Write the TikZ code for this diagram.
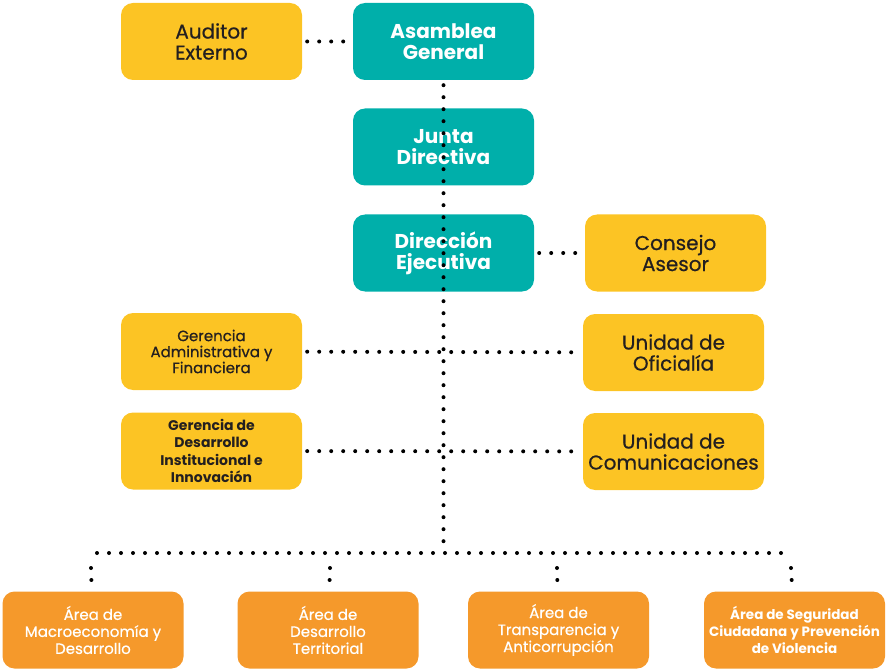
\documentclass[tikz,border=0pt]{standalone}
\usepackage{fontspec}
\setmainfont{Poppins}
\newfontfamily\medfont[FakeBold=0.6]{Poppins}
\usepackage{xcolor}
\usepackage{tikz}

\definecolor{boxyel}{HTML}{FCC424}
\definecolor{boxtea}{HTML}{00AFAA}
\definecolor{boxora}{HTML}{F5992B}
\definecolor{txtdark}{HTML}{231F20}

\begin{document}
\begin{tikzpicture}[x=1pt, y=-1pt,
    main/.style = {rounded corners=12pt, minimum width=181pt, minimum height=77pt, align=center, inner sep=1pt},
    yel/.style = {main, fill=boxyel, text=txtdark, font=\medfont\fontsize{20}{21}\selectfont},
    tea/.style = {main, fill=boxtea, text=white, font=\bfseries\fontsize{20}{21}\selectfont},
    ora/.style = {main, fill=boxora, text=white, font=\medfont\fontsize{15}{17}\selectfont},
    dots/.style = {line width=4pt, line cap=round, dash pattern=on 0pt off 12pt, shorten <=5pt, shorten >=5pt}]
        \useasboundingbox (0,0) rectangle (886,671);
        \node [yel] (0) at (211.5, 41.5) {Auditor\\Externo};
        \node [tea] (1) at (443.5, 41.5) {Asamblea\\General};
        \node [tea] (2) at (443.5, 147) {Junta\\Directiva};
        \node [tea] (3) at (443.5, 253) {Dirección\\Ejecutiva};
        \node [yel] (4) at (675.5, 253) {Consejo\\Asesor};
        \node [yel, font=\medfont\fontsize{15}{16}\selectfont] (5) at (211.5, 351.5) {Gerencia\\Administrativa y\\Financiera};
        \node [yel] (6) at (673.5, 352.5) {Unidad de\\Oficialía};
        \node [yel, font=\bfseries\fontsize{14}{17.5}\selectfont] (7) at (211.5, 451) {Gerencia de\\Desarrollo\\Institucional e\\Innovación};
        \node [yel] (8) at (673.5, 451.5) {Unidad de\\Comunicaciones};
        \node [ora] (9) at (93, 630) {Área de\\Macroeconomía y\\Desarrollo};
        \node [ora] (10) at (328, 630) {Área de\\Desarrollo\\Territorial};
        \node [ora] (11) at (558.5, 630) {Área de\\Transparencia y\\Anticorrupción};
        \node [ora, font=\bfseries\fontsize{13.5}{17}\selectfont] (12) at (794.5, 630) {Área de Seguridad\\Ciudadana y Prevención\\de Violencia};
        \coordinate (t) at (443.5, 553);
        \coordinate (l) at (97, 553);
        \coordinate (r) at (790, 553);
        \coordinate (d9) at (91, 568);
        \coordinate (d10) at (330, 568);
        \coordinate (d11) at (557, 568);
        \coordinate (d12) at (791, 568);
        \draw[dots] (0) to (1);
        \draw[dots] (3) to (4);
        \draw[dots] (5) to (6);
        \draw[dots] (7) to (8);
        \draw[dots, shorten >=0pt] (1) to (t);
        \draw[dots, shorten <=0pt, shorten >=0pt] (l) to (r);
        \draw[dots, shorten <=0pt, shorten >=3pt] (d9) to (9);
        \draw[dots, shorten <=0pt, shorten >=3pt] (d10) to (10);
        \draw[dots, shorten <=0pt, shorten >=3pt] (d11) to (11);
        \draw[dots, shorten <=0pt, shorten >=3pt] (d12) to (12);
\end{tikzpicture}
\end{document}
